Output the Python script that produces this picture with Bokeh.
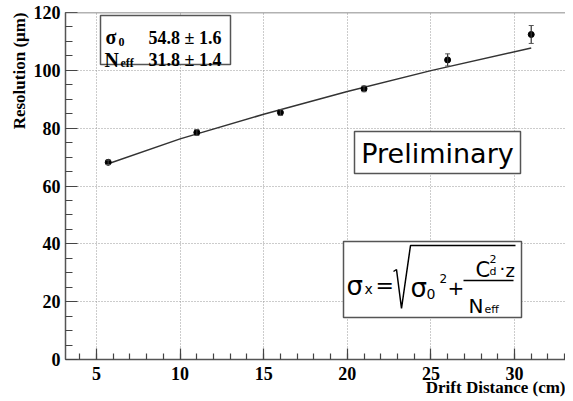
import math
from bokeh.plotting import figure
from bokeh.models import (Range1d, SingleIntervalTicker, BoxAnnotation, Label, Span,
                          Whisker, TeeHead, ColumnDataSource, Title)
from bokeh.embed import file_html
from bokeh.resources import INLINE

# ---------------- data ----------------
drift_cm = [5.7, 11.0, 16.0, 21.0, 26.0, 31.0]
resolution_um = [68.2, 78.5, 85.4, 93.6, 103.6, 112.4]
resolution_err = [0.8, 1.0, 1.0, 1.0, 2.1, 3.1]
fit_x = [5.7, 10.0, 15.0, 20.0, 25.0, 31.0]
fit_y = [67.7, 76.3, 84.8, 92.7, 99.9, 107.7]
sigma0_txt = "54.8 ± 1.6"
neff_txt = "31.8 ± 1.4"
x_title = "Drift Distance (cm)"
y_title = "Resolution (μm)"

X0, X1 = 3.146, 33.05
Y0, Y1 = 0, 120

W, H = 565, 400
# frame position in picture pixels
FL, FR, FT, FB = 65, W, 12, 359
def dx(px):
    return X0 + (px - FL) / (FR - FL) * (X1 - X0)
def dy(py):
    return Y0 + (FB - py) / (FB - FT) * (Y1 - Y0)

SERIF = "Liberation Serif"
SANS = "DejaVu Sans"

p = figure(width=W, height=H, output_backend="svg", toolbar_location=None,
           x_range=Range1d(X0, X1), y_range=Range1d(Y0, Y1),
           min_border_left=FL, min_border_right=0, min_border_top=FT,
           min_border_bottom=H - FB)
p.outline_line_color = None
p.background_fill_color = "white"
p.border_fill_color = "white"

# axes
p.xaxis.ticker = SingleIntervalTicker(interval=5, num_minor_ticks=5)
p.yaxis.ticker = SingleIntervalTicker(interval=20, num_minor_ticks=4)
for ax in (p.xaxis[0], p.yaxis[0]):
    ax.axis_line_color = "#555555"
    ax.axis_line_width = 1.5
    ax.major_tick_line_color = "#444444"
    ax.minor_tick_line_color = "#444444"
    ax.major_tick_line_width = 1.2
    ax.minor_tick_line_width = 1.2
    ax.major_tick_out = 0
    ax.minor_tick_out = 0
    ax.major_label_text_font = SERIF
    ax.major_label_text_font_style = "bold"
    ax.major_label_text_font_size = "18px"
    ax.major_label_text_color = "black"
p.xaxis.major_tick_in = 11
p.xaxis.minor_tick_in = 6
p.yaxis.major_tick_in = 12
p.yaxis.minor_tick_in = 7
p.xaxis.major_label_standoff = 7
p.yaxis.major_label_standoff = 5

# axis titles, aligned to the axis end
p.add_layout(Title(text=x_title, align="right", text_font=SERIF, text_font_style="bold",
                   text_font_size="17px", text_color="black", standoff=-14), "below")
p.add_layout(Title(text=y_title, align="right", text_font=SERIF, text_font_style="bold",
                   text_font_size="17px", text_color="black", standoff=3), "left")

p.xgrid.ticker = SingleIntervalTicker(interval=5)
p.ygrid.ticker = SingleIntervalTicker(interval=20)
for g in (p.xgrid[0], p.ygrid[0]):
    g.grid_line_color = "#999999"
    g.grid_line_dash = "1 2"
    g.grid_line_width = 1

p.add_layout(Span(location=120, dimension="width", line_color="#666666", line_width=1.5))

def lab(px, py, text, size, font=SERIF, style="bold", align="left",
        baseline="alphabetic", angle=0.0):
    p.add_layout(Label(x=dx(px), y=dy(py), text=text, text_font=font,
                       text_font_style=style, text_font_size=f"{size}px",
                       text_align=align, text_baseline=baseline, text_color="black",
                       angle=angle))

# boxes (drawn under glyph lines)
def box(l, r, t, b):
    p.add_layout(BoxAnnotation(left=dx(l), right=dx(r), top=dy(t), bottom=dy(b),
                               fill_color="white", fill_alpha=1, line_color="#555555",
                               line_width=1.5, line_alpha=1, level="underlay"))
box(100, 230, 15, 64)
box(354, 520, 131, 173)
box(343, 521, 241, 317)

# fit curve
p.line(fit_x, fit_y, line_color="#333333", line_width=1.5)

# data with errors
src = ColumnDataSource(dict(
    x=drift_cm, y=resolution_um,
    lo=[v - e for v, e in zip(resolution_um, resolution_err)],
    hi=[v + e for v, e in zip(resolution_um, resolution_err)]))
p.add_layout(Whisker(base="x", lower="lo", upper="hi", source=src, line_color="#333333",
                     line_width=1.2,
                     upper_head=TeeHead(size=5, line_color="#555555"),
                     lower_head=TeeHead(size=5, line_color="#555555"),
                     level="glyph"))
p.scatter("x", "y", source=src, size=6, fill_color="black", line_color="black")

# parameter box text
lab(105, 36, "σ", 20)
lab(118, 41, "0", 12)
lab(148, 37, sigma0_txt, 18)
lab(104, 59, "N", 20)
lab(120, 62, "eff", 12)
lab(148, 59, neff_txt, 18)

# Preliminary
lab(437, 153, "Preliminary", 27, font=SANS, style="normal", align="center", baseline="middle")

# formula
lab(346, 285, "σ", 26, font=SANS, style="normal")
lab(364, 288, "x", 14, font=SANS, style="normal")
lab(375, 285, "=", 22, font=SANS, style="normal")
p.line([dx(393), dx(396), dx(401), dx(410), dx(515)],
       [dy(271), dy(269), dy(308), dy(245), dy(245)], line_color="black", line_width=1.5)
lab(410, 287, "σ", 26, font=SANS, style="normal")
lab(426, 293, "0", 14, font=SANS, style="normal")
lab(439, 278, "2", 12, font=SANS, style="normal")
lab(447, 287, "+", 20, font=SANS, style="normal")
p.line([dx(463), dx(513)], [dy(280), dy(280)], line_color="black", line_width=1.3)
lab(475, 269, "C", 21, font=SANS, style="normal")
lab(489, 258, "2", 11, font=SANS, style="normal")
lab(489, 271, "d", 11, font=SANS, style="normal")
lab(499, 268, "·", 18, font=SANS, style="normal")
lab(505, 270, "z", 18, font=SANS, style="normal")
lab(468, 305, "N", 20, font=SANS, style="normal")
lab(484, 309, "eff", 11, font=SANS, style="normal")

open("out.html", "w").write(file_html(p, INLINE))
